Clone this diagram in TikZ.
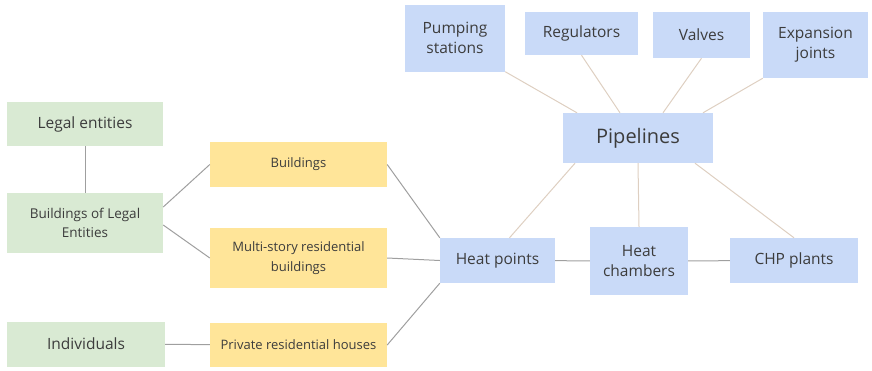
\documentclass[tikz,border=0pt]{standalone}
\usepackage{fontspec}
\setmainfont{Open Sans}

\definecolor{entgreen}{HTML}{D9EAD3}
\definecolor{bldyellow}{HTML}{FFE599}
\definecolor{netblue}{HTML}{C9DAF8}
\definecolor{txtgray}{HTML}{3C3C3C}

\begin{document}
\begin{tikzpicture}[x = 1pt, y = -1pt,
	entity/.style = {rectangle, fill = entgreen, align = center, text = txtgray, inner sep = 2pt},
	building/.style = {rectangle, fill = bldyellow, align = center, text = txtgray, inner sep = 1pt, font = \fontsize{13}{19.5}\selectfont},
	network/.style = {rectangle, fill = netblue, align = center, text = txtgray, inner sep = 2pt, font = \fontsize{15.5}{20}\selectfont}]

	\useasboundingbox (0, 0) rectangle (872, 370);

	% Consumers

	\node[entity, minimum width = 156, minimum height = 44, font = \fontsize{15.5}{19}\selectfont] (legal) at (85, 124) {Legal entities};
	\node[entity, minimum width = 156, minimum height = 60, font = \fontsize{13.5}{19}\selectfont] (ble) at (85, 223) {Buildings of Legal\\ Entities};
	\node[entity, minimum width = 158, minimum height = 45, font = \fontsize{15.5}{19}\selectfont] (indiv) at (86, 344) {Individuals};

	% Buildings

	\node[building, minimum width = 177, minimum height = 45] (bldg) at (298.5, 164.5) {Buildings};
	\node[building, minimum width = 177, minimum height = 60] (multi) at (298.5, 258) {Multi-story residential\\ buildings};
	\node[building, minimum width = 177, minimum height = 44] (priv) at (298.5, 345) {Private residential houses};

	% Heat network

	\node[network, minimum width = 100, minimum height = 67] (pump) at (455, 38) {Pumping\\ stations};
	\node[network, minimum width = 113, minimum height = 43] (reg) at (581.5, 33.5) {Regulators};
	\node[network, minimum width = 97, minimum height = 46] (valves) at (701.5, 35) {Valves};
	\node[network, minimum width = 105, minimum height = 66] (expan) at (815.5, 45) {Expansion\\ joints};
	\node[network, minimum width = 150, minimum height = 50, font = \fontsize{20}{24}\selectfont] (pipe) at (638, 138) {Pipelines};
	\node[network, minimum width = 115, minimum height = 45] (heatp) at (497.5, 260.5) {Heat points};
	\node[network, minimum width = 98, minimum height = 68] (heatc) at (639, 261) {Heat\\ chambers};
	\node[network, minimum width = 128, minimum height = 45] (chp) at (794, 260.5) {CHP plants};

	% Links between consumers and heat points

	\begin{scope}[draw = gray!75, line width = 1pt]

		\draw (legal) -- (ble);
		\draw ([yshift = 16]ble.east) -- (bldg.west);
		\draw ([yshift = -2]ble.east) -- (multi.west);
		\draw (indiv) -- (priv);

		\draw (bldg.east) -- (heatp.north west);
		\draw (multi.east) -- (heatp.west);
		\draw (priv.east) -- (heatp.south west);

		\draw (heatp) -- (heatc);
		\draw (heatc) -- (chp);

	\end{scope}

	% Links of the pipelines

	\begin{scope}[draw = black!25!brown!30, line width = 1pt]

		\draw (pump.south east) -- ([xshift = -61]pipe.north);
		\draw (reg.south) -- ([xshift = -18]pipe.north);
		\draw (valves.south) -- ([xshift = 25]pipe.north);
		\draw (expan.south west) -- ([xshift = 65]pipe.north);

		\draw ([xshift = -63]pipe.south) -- ([xshift = 12]heatp.north);
		\draw (pipe.south) -- (heatc.north);
		\draw ([xshift = 57]pipe.south) -- (chp.north);

	\end{scope}

\end{tikzpicture}
\end{document}
